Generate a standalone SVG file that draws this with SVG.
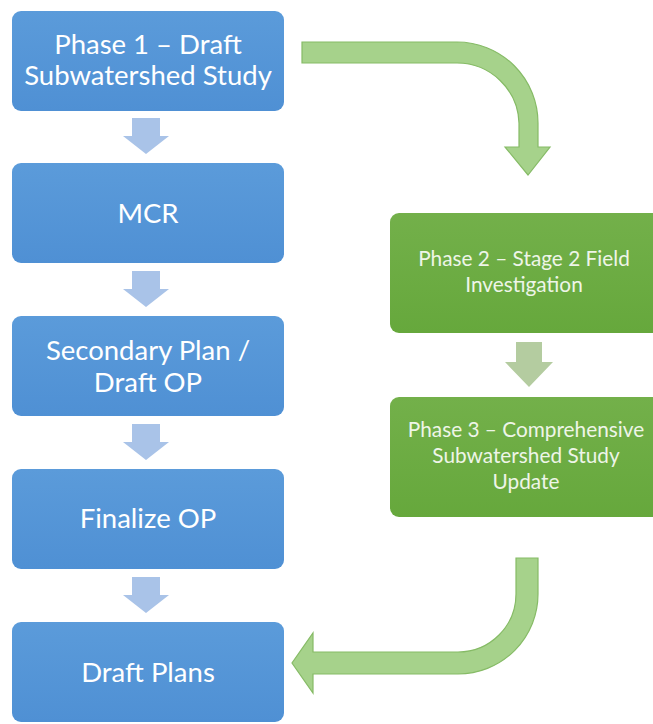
<svg xmlns="http://www.w3.org/2000/svg" width="653" height="724" viewBox="0 0 653 724">
<defs>
<linearGradient id="gBlue" x1="0" y1="0" x2="0" y2="1">
<stop offset="0" stop-color="#5b9bda"/><stop offset="1" stop-color="#4f90d4"/>
</linearGradient>
<linearGradient id="gGreen" x1="0" y1="0" x2="0" y2="1">
<stop offset="0" stop-color="#73b04a"/><stop offset="1" stop-color="#66a83c"/>
</linearGradient>
<style>
.blue rect{fill:url(#gBlue);}
.green rect{fill:url(#gGreen);}
.bt{font-family:Lato,"Liberation Sans",sans-serif;font-size:27.5px;fill:#ffffff;text-anchor:middle;}
.gt{font-family:Lato,"Liberation Sans",sans-serif;font-size:20.8px;fill:#eef5e8;text-anchor:middle;}
.ba{fill:#a9c3e8;}
.ga{fill:#b4cca0;}
.big{fill:#a6d28b;stroke:#86bb66;stroke-width:1.2;}
</style>
</defs>
<rect width="653" height="724" fill="#ffffff"/>
<g id="connectors">
<path class="ba" d="M132,118 H160 V136 H169 L146,154 L123,136 H132 Z"/>
<path class="ba" d="M132,271 H160 V289 H169 L146,307 L123,289 H132 Z"/>
<path class="ba" d="M132,424 H160 V442 H169 L146,460 L123,442 H132 Z"/>
<path class="ba" d="M132,577 H160 V595 H169 L146,613 L123,595 H132 Z"/>
<path class="ga" d="M516,342 H542 V362 H553 L529,387 L505,362 H516 Z"/>
<path class="big" d="M302,42 H457 A81,81 0 0 1 538,123 V147 H550 L528,175 L505,147 H519 V123 A62,62 0 0 0 457,63 H302 Z"/>
<path class="big" d="M538,558 V594 A80,80 0 0 1 458,674 H313 V693 L292,663 L313,633 V652 H458 A58,58 0 0 0 516,594 V558 Z"/>
</g>
<g id="n1" class="blue"><rect x="12" y="11" width="272" height="100" rx="9"/>
<text class="bt" x="148" y="54">Phase 1 – Draft</text><text class="bt" x="148" y="85">Subwatershed Study</text></g>
<g id="n2" class="blue"><rect x="12" y="163" width="272" height="100" rx="9"/>
<text class="bt" x="148" y="223">MCR</text></g>
<g id="n3" class="blue"><rect x="12" y="316" width="272" height="100" rx="9"/>
<text class="bt" x="148" y="360">Secondary Plan /</text><text class="bt" x="148" y="392">Draft OP</text></g>
<g id="n4" class="blue"><rect x="12" y="469" width="272" height="100" rx="9"/>
<text class="bt" x="148" y="528">Finalize OP</text></g>
<g id="n5" class="blue"><rect x="12" y="622" width="272" height="100" rx="9"/>
<text class="bt" x="148" y="682">Draft Plans</text></g>
<g id="n6" class="green"><rect x="390" y="213" width="272" height="120" rx="9"/>
<text class="gt" x="524" y="266">Phase 2 – Stage 2 Field</text><text class="gt" x="524" y="292">Investigation</text></g>
<g id="n7" class="green"><rect x="390" y="397" width="272" height="120" rx="9"/>
<text class="gt" x="526" y="437">Phase 3 – Comprehensive</text><text class="gt" x="526" y="463">Subwatershed Study</text><text class="gt" x="526" y="489">Update</text></g>
</svg>
